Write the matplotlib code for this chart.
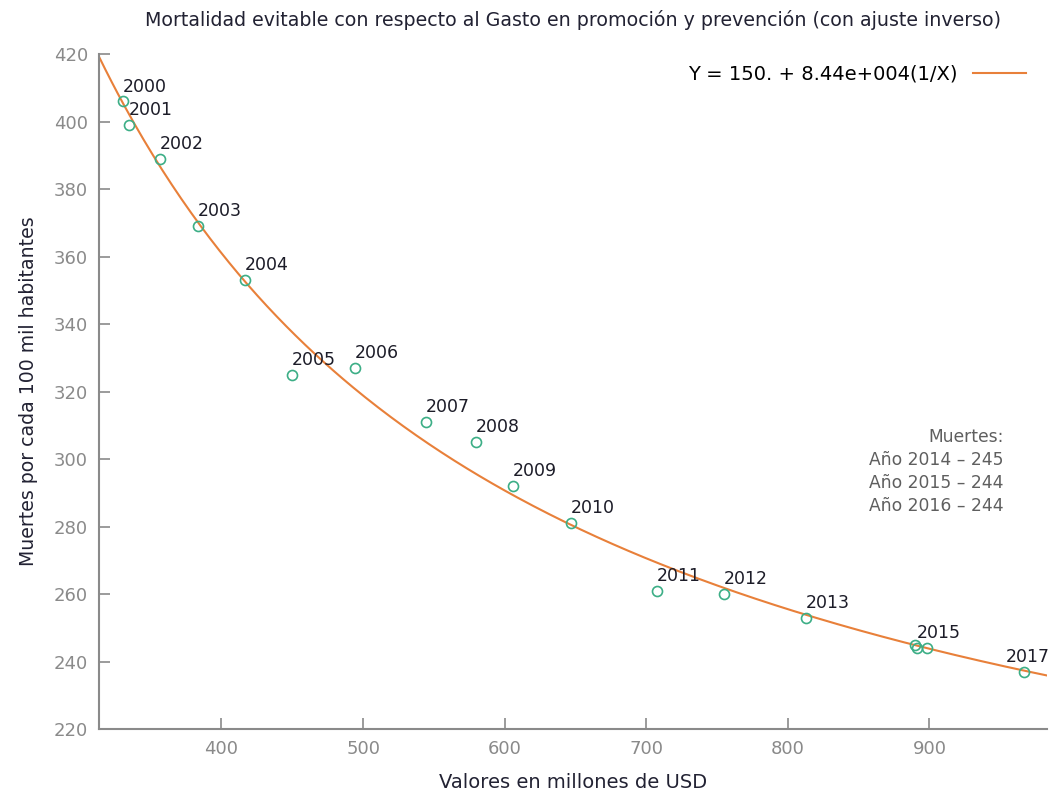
import numpy as np
import matplotlib
matplotlib.use("Agg")
import matplotlib.pyplot as plt

# datos
anios = [2000, 2001, 2002, 2003, 2004, 2005, 2006, 2007, 2008,
         2009, 2010, 2011, 2012, 2013, 2014, 2015, 2016, 2017]
gasto = [330.5, 334.7, 356.6, 383.4, 416.6, 449.8, 494.2, 544.3, 579.6,
         605.7, 646.6, 707.3, 754.6, 812.5, 889.5, 891.0, 898.5, 967.0]
muertes = [406, 399, 389, 369, 353, 325, 327, 311, 305,
           292, 281, 261, 260, 253, 245, 244, 244, 237]
etiquetas = ["2000", "2001", "2002", "2003", "2004", "2005", "2006", "2007", "2008",
             "2009", "2010", "2011", "2012", "2013", "", "2015", "", "2017"]

# ajuste inverso Y = a + b/X
a_fit = 150.0
b_fit = 8.44e4

gris = "#8a8a8a"
plt.rcParams['font.family'] = ['DejaVu Sans']

fig = plt.figure(figsize=(10.53, 7.93), dpi=100)
ax = fig.add_axes([0.094, 0.0807, 0.9003, 0.8512])

xlim = (313.5, 983.0)
xs = np.linspace(xlim[0], xlim[1], 300)
ax.plot(xs, a_fit + b_fit / xs, color="#e8803a", lw=1.5,
        label="Y = 150. + 8.44e+004(1/X)")
ax.plot(gasto, muertes, "o", mfc="none", mec="#3cae86", ms=7.2, mew=1.2)

for x, y, t in zip(gasto, muertes, etiquetas):
    if not t:
        continue
    if x > 950:
        # la ultima etiqueta se corre a la izquierda para no salirse
        ax.annotate(t, (x, y), xytext=(18.5, 7), textcoords="offset points",
                    ha="right", va="baseline", fontsize=12.5, color="#1c1c28")
    else:
        ax.annotate(t, (x, y), xytext=(0, 7), textcoords="offset points",
                    ha="left", va="baseline", fontsize=12.5, color="#1c1c28")

ax.set_xlim(*xlim)
ax.set_ylim(220, 420)
ax.set_xticks([400, 500, 600, 700, 800, 900])
ax.set_yticks(np.arange(220, 421, 20))

for s in ["top", "right"]:
    ax.spines[s].set_visible(False)
for s in ["left", "bottom"]:
    ax.spines[s].set_color(gris)
    ax.spines[s].set_linewidth(1.5)
ax.tick_params(direction="in", length=8, width=1.2, color=gris,
               labelcolor=gris, labelsize=13, pad=8)

ax.set_xlabel("Valores en millones de USD", fontsize=14, color="#222233", labelpad=11)
ax.set_ylabel("Muertes por cada 100 mil habitantes", fontsize=13.6, color="#222233", labelpad=11)
ax.set_title("Mortalidad evitable con respecto al Gasto en promoción y prevención (con ajuste inverso)",
             fontsize=13.7, color="#222233", pad=20)

ax.legend(loc="upper right", frameon=False, markerfirst=False, fontsize=14,
          handlelength=2.7, bbox_to_anchor=(0.996, 1.01))

ax.text(0.954, 0.381, "Muertes:\nAño 2014 – 245\nAño 2015 – 244\nAño 2016 – 244",
        transform=ax.transAxes, ha="right", va="center", multialignment="right",
        fontsize=12.3, color="#5f5f5f", linespacing=1.36)

fig.savefig("out.png", dpi=100)
